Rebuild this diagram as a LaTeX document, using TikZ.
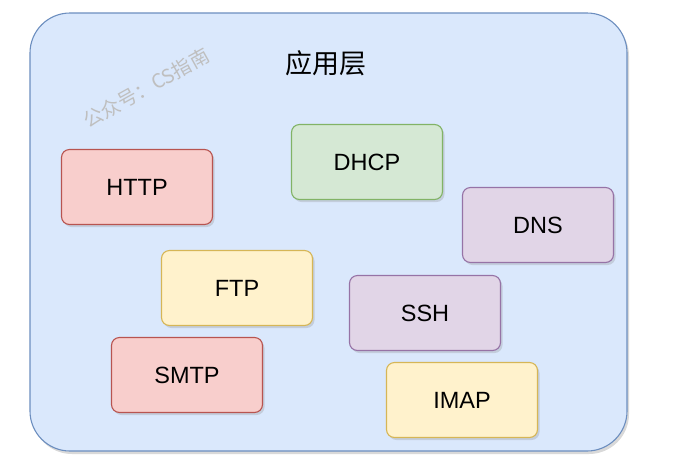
\documentclass[tikz,border=0pt]{standalone}
\usepackage{fontspec}
\setmainfont{Liberation Sans}
\newfontfamily\cjk{Noto Sans CJK SC}
\usetikzlibrary{shadows}

\definecolor{bluefill}{HTML}{DAE8FC}
\definecolor{bluedraw}{HTML}{6C8EBF}
\definecolor{redfill}{HTML}{F8CECC}
\definecolor{reddraw}{HTML}{B85450}
\definecolor{greenfill}{HTML}{D5E8D4}
\definecolor{greendraw}{HTML}{82B366}
\definecolor{purplefill}{HTML}{E1D5E7}
\definecolor{purpledraw}{HTML}{9673A6}
\definecolor{yellowfill}{HTML}{FFF2CC}
\definecolor{yellowdraw}{HTML}{D6B656}

\begin{document}
\begin{tikzpicture}[x=1pt,y=-1pt,
    proto/.style={rectangle,rounded corners=8pt,line width=1.1pt,
        minimum width=151pt,minimum height=75pt,inner sep=0pt,
        font=\fontsize{23.5}{27}\selectfont,
        drop shadow={shadow xshift=2pt,shadow yshift=-2.5pt,opacity=0.25}},
    red/.style={proto,fill=redfill,draw=reddraw},
    green/.style={proto,fill=greenfill,draw=greendraw},
    purple/.style={proto,fill=purplefill,draw=purpledraw},
    yellow/.style={proto,fill=yellowfill,draw=yellowdraw}]
    \useasboundingbox (0,0) rectangle (681,475);

    \node[rectangle,rounded corners=40pt,line width=1.1pt,fill=bluefill,draw=bluedraw,
          minimum width=597pt,minimum height=438pt,
          drop shadow={shadow xshift=2pt,shadow yshift=-3pt,opacity=0.3}]
          (app) at (328.5,232) {};
    \node[font=\cjk\fontsize{27}{30}\selectfont] (title) at (326,63) {应用层};
    \node[font=\cjk\fontsize{19.5}{22}\selectfont,text=black!25,rotate=29]
          (mark) at (146,88) {公众号：CS指南};

    \node[red]    (http) at (137,187) {HTTP};
    \node[green]  (dhcp) at (367,162) {DHCP};
    \node[purple] (dns)  at (538,225) {DNS};
    \node[yellow] (ftp)  at (237,288) {FTP};
    \node[purple] (ssh)  at (425,313) {SSH};
    \node[red]    (smtp) at (187,375) {SMTP};
    \node[yellow] (imap) at (462,400) {IMAP};
\end{tikzpicture}
\end{document}
